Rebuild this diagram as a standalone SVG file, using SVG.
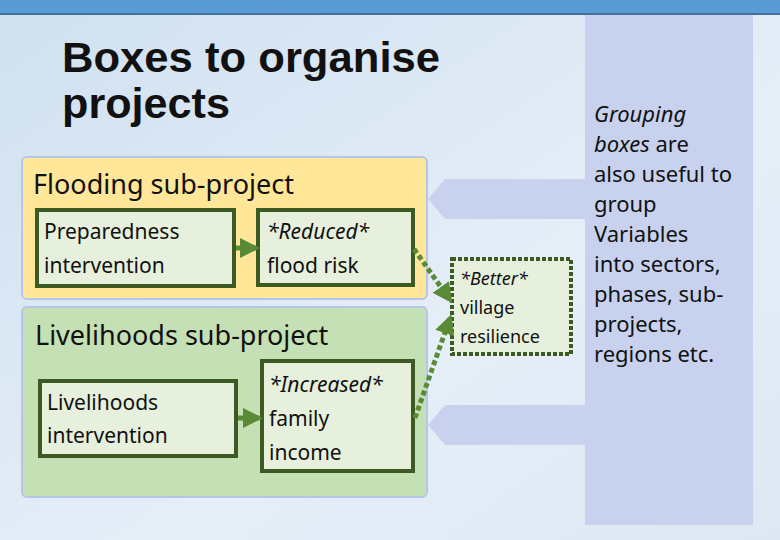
<svg xmlns="http://www.w3.org/2000/svg" width="780" height="540" viewBox="0 0 780 540">
<defs>
<linearGradient id="bg" x1="0" y1="0" x2="1" y2="1"><stop offset="0" stop-color="#cfe0f0"/><stop offset="0.6" stop-color="#e6eef8"/><stop offset="1" stop-color="#dde8f4"/></linearGradient>
<marker id="ah" viewBox="0 0 10 10" refX="8" refY="5" markerWidth="4" markerHeight="4" orient="auto"><path d="M0,0L10,5L0,10z" fill="#5a8a35"/></marker>
</defs>
<style>
text{font-family:"Noto Sans","Liberation Sans",sans-serif;fill:#111}
.inner{fill:#e6f0dc;stroke:#3d5a22;stroke-width:4}
.lbl{font-size:21px}
.solid{stroke:#5a8a35;stroke-width:5;fill:none}
.dot{stroke:#5a8a35;stroke-width:5;fill:none;stroke-dasharray:5 3}
</style>
<rect width="780" height="540" fill="url(#bg)"/>
<rect width="780" height="15" fill="#5b9bd5"/>
<rect y="13" width="780" height="2" fill="#41719c"/>
<rect x="585" y="15" width="168" height="510" fill="#c8d2ef"/>
<path d="M585,179H445L428,199L445,219H585z" fill="#c8d2ef"/>
<path d="M585,405H445L428,425L445,445H585z" fill="#c8d2ef"/>
<text x="62" y="72" style="font-family:'Liberation Sans',Arial,sans-serif;font-weight:bold;font-size:43px" textLength="378" lengthAdjust="spacingAndGlyphs">Boxes to organise</text>
<text x="62" y="118" style="font-family:'Liberation Sans',Arial,sans-serif;font-weight:bold;font-size:43px" textLength="168" lengthAdjust="spacingAndGlyphs">projects</text>
<g id="flooding"><rect x="22" y="157" width="405" height="142" rx="5" fill="#ffe699" stroke="#b4c7e7" stroke-width="2"/><text x="33" y="194" font-size="27">Flooding sub-project</text></g>
<g id="livelihoods"><rect x="22" y="307" width="405" height="190" rx="5" fill="#c5e0b4" stroke="#b4c7e7" stroke-width="2"/><text x="35" y="345" font-size="27">Livelihoods sub-project</text></g>
<g id="prep"><rect class="inner" x="37" y="210" width="197" height="76"/><text class="lbl" x="44" y="239">Preparedness</text><text class="lbl" x="44" y="273">intervention</text></g>
<g id="reduced"><rect class="inner" x="258" y="210" width="155" height="75"/><text class="lbl" x="267" y="239" font-style="italic">*Reduced*</text><text class="lbl" x="267" y="273">flood risk</text></g>
<g id="liveint"><rect class="inner" x="40" y="381" width="196" height="75"/><text class="lbl" x="47" y="410">Livelihoods</text><text class="lbl" x="47" y="443">intervention</text></g>
<g id="income"><rect class="inner" x="262" y="361" width="151" height="110"/><text class="lbl" x="269" y="392" font-style="italic">*Increased*</text><text class="lbl" x="269" y="426">family</text><text class="lbl" x="269" y="460">income</text></g>
<g id="better"><rect x="452" y="259" width="119" height="95" fill="#e6f0dc" stroke="#3d5a22" stroke-width="4" stroke-dasharray="4 2"/><text x="460" y="285" font-size="18" font-style="italic">*Better*</text><text x="460" y="314" font-size="18">village</text><text x="460" y="343" font-size="18">resilience</text></g>
<g id="connectors">
<line class="solid" x1="236" y1="248" x2="256" y2="248" marker-end="url(#ah)"/>
<line class="solid" x1="238" y1="418" x2="259" y2="418" marker-end="url(#ah)"/>
<line class="dot" x1="414" y1="249" x2="450" y2="300" marker-end="url(#ah)"/>
<line class="dot" x1="415" y1="418" x2="450" y2="318" marker-end="url(#ah)"/>
</g>
<g id="note" font-size="22">
<text x="594" y="122" font-style="italic">Grouping</text>
<text x="594" y="152"><tspan font-style="italic">boxes</tspan> are</text>
<text x="594" y="182">also useful to</text>
<text x="594" y="212">group</text>
<text x="594" y="242">Variables</text>
<text x="594" y="272">into sectors,</text>
<text x="594" y="302">phases, sub-</text>
<text x="594" y="332">projects,</text>
<text x="594" y="362">regions etc.</text>
</g>
</svg>
